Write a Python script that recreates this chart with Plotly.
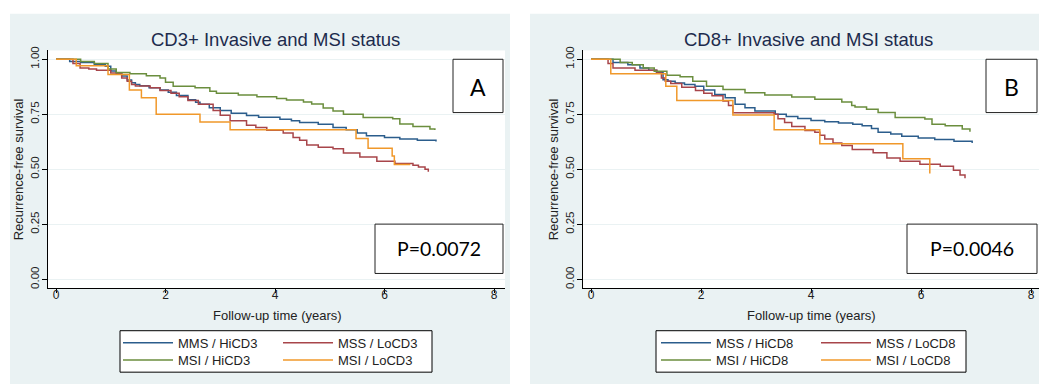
import plotly.graph_objects as go

W, H = 1039, 386

# ---------------- data ----------------
# Panel A: CD3+ Invasive and MSI status
a_hi_mss_t = [0, 0.25, 0.45, 0.7, 0.9, 1.0, 1.1, 1.2, 1.3, 1.38, 1.45, 1.53, 1.7, 1.9, 2.05, 2.2, 2.41,
              2.55, 2.63, 2.8, 3.0, 3.2, 3.48, 3.7, 4.09, 4.3, 4.45, 4.79, 5.06, 5.3, 5.5, 5.67, 6.0,
              6.28, 6.6, 6.94]
a_hi_mss_s = [1, 0.99, 0.985, 0.975, 0.968, 0.946, 0.935, 0.924, 0.905, 0.893, 0.885, 0.879, 0.87, 0.86,
              0.85, 0.835, 0.816, 0.805, 0.795, 0.78, 0.767, 0.755, 0.744, 0.737, 0.727, 0.72, 0.713,
              0.705, 0.69, 0.68, 0.665, 0.653, 0.645, 0.638, 0.632, 0.626]

a_lo_mss_t = [0, 0.31, 0.44, 0.6, 0.74, 1.0, 1.2, 1.3, 1.38, 1.45, 1.72, 1.9, 2.1, 2.25, 2.41, 2.6, 2.87,
              3.0, 3.18, 3.48, 3.65, 3.85, 4.15, 4.33, 4.45, 4.58, 4.79, 5.06, 5.25, 5.55, 5.86, 6.19,
              6.52, 6.62, 6.74, 6.8]
a_lo_mss_s = [1, 0.98, 0.96, 0.955, 0.95, 0.937, 0.915, 0.9, 0.885, 0.878, 0.87, 0.858, 0.845, 0.83,
              0.812, 0.795, 0.767, 0.745, 0.72, 0.70, 0.69, 0.677, 0.665, 0.645, 0.632, 0.61, 0.60,
              0.593, 0.574, 0.556, 0.537, 0.526, 0.519, 0.511, 0.50, 0.489]

a_hi_msi_t = [0, 0.45, 0.7, 0.95, 1.1, 1.35, 1.65, 1.9, 2.0, 2.14, 2.54, 2.81, 2.93, 3.33, 3.67, 4.03,
              4.21, 4.52, 4.67, 4.88, 5.06, 5.25, 5.61, 6.15, 6.28, 6.52, 6.83, 6.92]
a_hi_msi_s = [1, 0.99, 0.98, 0.955, 0.94, 0.934, 0.925, 0.915, 0.895, 0.877, 0.87, 0.855, 0.845, 0.837,
              0.83, 0.822, 0.815, 0.806, 0.797, 0.778, 0.765, 0.75, 0.735, 0.73, 0.706, 0.695, 0.683,
              0.678]

a_lo_msi_t = [0, 0.37, 0.95, 1.34, 1.56, 1.83, 2.63, 3.18, 5.48, 5.70, 6.14, 6.18, 6.47]
a_lo_msi_s = [1, 0.97, 0.93, 0.86, 0.825, 0.75, 0.715, 0.68, 0.64, 0.596, 0.56, 0.522, 0.522]

# Panel B: CD8+ Invasive and MSI status
b_hi_mss_t = [0, 0.4, 0.67, 0.89, 1.05, 1.19, 1.31, 1.4, 1.53, 1.7, 1.89, 2.05, 2.25, 2.44, 2.62, 2.8,
              2.98, 3.35, 3.55, 3.76, 4.0, 4.25, 4.5, 4.76, 4.93, 5.1, 5.22, 5.45, 5.65, 5.95, 6.25,
              6.6, 6.93]
b_hi_mss_s = [1, 0.985, 0.975, 0.96, 0.95, 0.94, 0.907, 0.9, 0.892, 0.885, 0.877, 0.86, 0.84, 0.825,
              0.795, 0.78, 0.765, 0.75, 0.74, 0.731, 0.722, 0.716, 0.71, 0.705, 0.698, 0.685, 0.668,
              0.66, 0.65, 0.642, 0.635, 0.628, 0.62]

b_lo_mss_t = [0, 0.31, 0.4, 0.8, 1.2, 1.28, 1.35, 1.45, 1.65, 1.9, 2.05, 2.2, 2.4, 2.5, 2.58, 3.33, 3.4,
              3.52, 3.65, 3.89, 4.07, 4.16, 4.25, 4.4, 4.56, 4.75, 5.13, 5.38, 5.62, 5.98, 6.35, 6.59,
              6.71, 6.8]
b_lo_mss_s = [1, 0.98, 0.96, 0.95, 0.937, 0.915, 0.9, 0.89, 0.873, 0.858, 0.845, 0.834, 0.81, 0.79,
              0.757, 0.75, 0.73, 0.713, 0.694, 0.676, 0.668, 0.655, 0.638, 0.62, 0.608, 0.59, 0.575,
              0.552, 0.537, 0.523, 0.514, 0.496, 0.474, 0.459]

b_hi_msi_t = [0, 0.53, 0.75, 0.95, 1.15, 1.38, 1.62, 1.85, 2.1, 2.4, 2.8, 3.16, 3.65, 4.07, 4.56, 4.74,
              4.8, 5.01, 5.22, 5.53, 6.07, 6.2, 6.44, 6.75, 6.89]
b_hi_msi_s = [1, 0.985, 0.975, 0.96, 0.945, 0.927, 0.92, 0.9, 0.877, 0.863, 0.848, 0.837, 0.828, 0.818,
              0.806, 0.79, 0.783, 0.773, 0.758, 0.735, 0.728, 0.705, 0.698, 0.683, 0.671]

b_lo_msi_t = [0, 0.36, 1.36, 1.56, 2.58, 3.33, 4.16, 5.67, 6.16]
b_lo_msi_s = [1, 0.934, 0.877, 0.813, 0.747, 0.68, 0.616, 0.548, 0.481]

names_a = ["MMS / HiCD3", "MSS / LoCD3", "MSI / HiCD3", "MSI / LoCD3"]
names_b = ["MSS / HiCD8", "MSS / LoCD8", "MSI / HiCD8", "MSI / LoCD8"]
titles = ["CD3+ Invasive and MSI status", "CD8+ Invasive and MSI status"]
panel_letters = ["A", "B"]
p_values = ["P=0.0072", "P=0.0046"]
x_title = "Follow-up time (years)"
y_title = "Recurrence-free survival"
x_ticks = [0, 2, 4, 6, 8]
y_ticks = [0, 0.25, 0.5, 0.75, 1.0]
y_ticktext = ["0.00", "0.25", "0.50", "0.75", "1.00"]

# ---------------- styling ----------------
colors = ["#2b5d8c", "#a8454a", "#6b8e3e", "#f0982a"]
BG = "#eaf2f3"
FONT = "Liberation Sans, Arial, sans-serif"
TITLE_COL = "#1c2b4d"


def fx(p):
    return p / W


def fy(p):
    return 1 - p / H


fig = go.Figure()

panels = [
    dict(series=[(a_hi_mss_t, a_hi_mss_s), (a_lo_mss_t, a_lo_mss_s), (a_hi_msi_t, a_hi_msi_s), (a_lo_msi_t, a_lo_msi_s)],
         names=names_a, xa="x", ya="y", legs=("legend", "legend2")),
    dict(series=[(b_hi_mss_t, b_hi_mss_s), (b_lo_mss_t, b_lo_mss_s), (b_hi_msi_t, b_hi_msi_s), (b_lo_msi_t, b_lo_msi_s)],
         names=names_b, xa="x2", ya="y2", legs=("legend3", "legend4")),
]

for p in panels:
    for i, ((t, s), nm) in enumerate(zip(p["series"], p["names"])):
        fig.add_trace(go.Scatter(
            x=t, y=s, mode="lines", name=nm,
            line=dict(shape="hv", color=colors[i], width=1.5),
            xaxis=p["xa"], yaxis=p["ya"],
            legend=p["legs"][0] if i < 2 else p["legs"][1],
            hoverinfo="skip",
        ))

# geometry in pixels
plot_top, plot_bot = 47, 288
pa_l, pa_r = 48, 505
pb_l, pb_r = 583, 1039

common_x = dict(tickvals=x_ticks, ticks="outside", ticklen=4, tickcolor="black", showline=True,
                linecolor="black", linewidth=1, showgrid=False, zeroline=False, ticklabelstandoff=-9,
                tickfont=dict(family=FONT, size=12, color="#222"))
common_y = dict(tickvals=y_ticks, ticktext=y_ticktext, tickangle=-90, ticks="outside", ticklen=5,
                tickcolor="black", showline=True, linecolor="black", linewidth=1, showgrid=True,
                gridcolor=BG, gridwidth=1, zeroline=False, range=[-0.04, 1.04], ticklabelstandoff=-2,
                tickfont=dict(family=FONT, size=11.5, color="#222"))

fig.update_layout(
    width=W, height=H, autosize=False,
    margin=dict(l=0, r=0, t=0, b=0),
    paper_bgcolor="white", plot_bgcolor="white",
    font=dict(family=FONT, color="#222"),
    xaxis=dict(domain=[fx(pa_l), fx(pa_r)], range=[(pa_l - 56) / 54.75, (pa_r - 56) / 54.75], anchor="y", **common_x),
    yaxis=dict(domain=[fy(plot_bot), fy(plot_top)], anchor="x", **common_y),
    xaxis2=dict(domain=[fx(pb_l), 1.0], range=[(pb_l - 591) / 55.0, (pb_r - 591) / 55.0], anchor="y2", **common_x),
    yaxis2=dict(domain=[fy(plot_bot), fy(plot_top)], anchor="x2", **common_y),
)

leg_common = dict(orientation="h", xanchor="left", yanchor="middle", bgcolor="rgba(0,0,0,0)",
                  font=dict(family=FONT, size=13, color="#222"), itemwidth=50,
                  entrywidth=95, entrywidthmode="pixels", itemclick=False, itemdoubleclick=False)
fig.update_layout(
    legend=dict(x=fx(118), y=fy(343.3), **leg_common),
    legend2=dict(x=fx(118), y=fy(360.7), **leg_common),
    legend3=dict(x=fx(656), y=fy(343.3), **leg_common),
    legend4=dict(x=fx(656), y=fy(360.7), **leg_common),
)

shapes = []
# panel backgrounds
for x0, x1 in [(10, 510), (530, 1039)]:
    shapes.append(dict(type="rect", xref="paper", yref="paper", x0=fx(x0), x1=fx(x1), y0=fy(385), y1=fy(10),
                       fillcolor=BG, line=dict(width=0), layer="below"))
# white plot areas
for x0, x1 in [(pa_l, pa_r), (pb_l, pb_r)]:
    shapes.append(dict(type="rect", xref="paper", yref="paper", x0=fx(x0), x1=fx(x1), y0=fy(plot_bot), y1=fy(plot_top),
                       fillcolor="white", line=dict(width=0), layer="below"))
# legend boxes
for x0, x1 in [(120, 432), (656, 966)]:
    shapes.append(dict(type="rect", xref="paper", yref="paper", x0=fx(x0), x1=fx(x1), y0=fy(373), y1=fy(331),
                       fillcolor="white", line=dict(width=1, color="black"), layer="below"))
# letter boxes and p-value boxes
letter_boxes = [(453, 503), (986, 1037)]
p_boxes = [(375, 503), (907, 1037)]
for x0, x1 in letter_boxes:
    shapes.append(dict(type="rect", xref="paper", yref="paper", x0=fx(x0), x1=fx(x1), y0=fy(110), y1=fy(56),
                       fillcolor="white", line=dict(width=1, color="#222")))
for x0, x1 in p_boxes:
    shapes.append(dict(type="rect", xref="paper", yref="paper", x0=fx(x0), x1=fx(x1), y0=fy(273), y1=fy(223),
                       fillcolor="white", line=dict(width=1, color="#222")))
fig.update_layout(shapes=shapes)

annotations = []
for cx, txt in zip([275, 808], titles):
    annotations.append(dict(xref="paper", yref="paper", x=fx(cx), y=fy(35.5), text=txt, showarrow=False,
                            xanchor="center", yanchor="middle", font=dict(family=FONT, size=18.5, color=TITLE_COL)))
for (x0, x1), txt in zip(letter_boxes, panel_letters):
    annotations.append(dict(xref="paper", yref="paper", x=fx((x0 + x1) / 2), y=fy(84), text=txt, showarrow=False,
                            xanchor="center", yanchor="middle", font=dict(family="Lato, sans-serif", size=23, color="black")))
for (x0, x1), txt in zip(p_boxes, p_values):
    annotations.append(dict(xref="paper", yref="paper", x=fx((x0 + x1) / 2), y=fy(248), text=txt, showarrow=False,
                            xanchor="center", yanchor="middle", font=dict(family="Lato, sans-serif", size=19.5, color="black")))
# axis titles
for cx in [(pa_l + pa_r) / 2 + 0.5, (591 + 1031) / 2]:
    annotations.append(dict(xref="paper", yref="paper", x=fx(cx), y=fy(315.5), text=x_title, showarrow=False,
                            xanchor="center", yanchor="middle", font=dict(family=FONT, size=13, color="#222")))
for cx in [18, 553]:
    annotations.append(dict(xref="paper", yref="paper", x=fx(cx), y=fy(167.5), text=y_title, showarrow=False,
                            textangle=-90, xanchor="center", yanchor="middle",
                            font=dict(family=FONT, size=13, color="#222")))
fig.update_layout(annotations=annotations)

fig.write_html("out.html", config={"displayModeBar": False, "staticPlot": True},
               post_script="document.body.style.margin='0';document.body.style.overflow='hidden';")
